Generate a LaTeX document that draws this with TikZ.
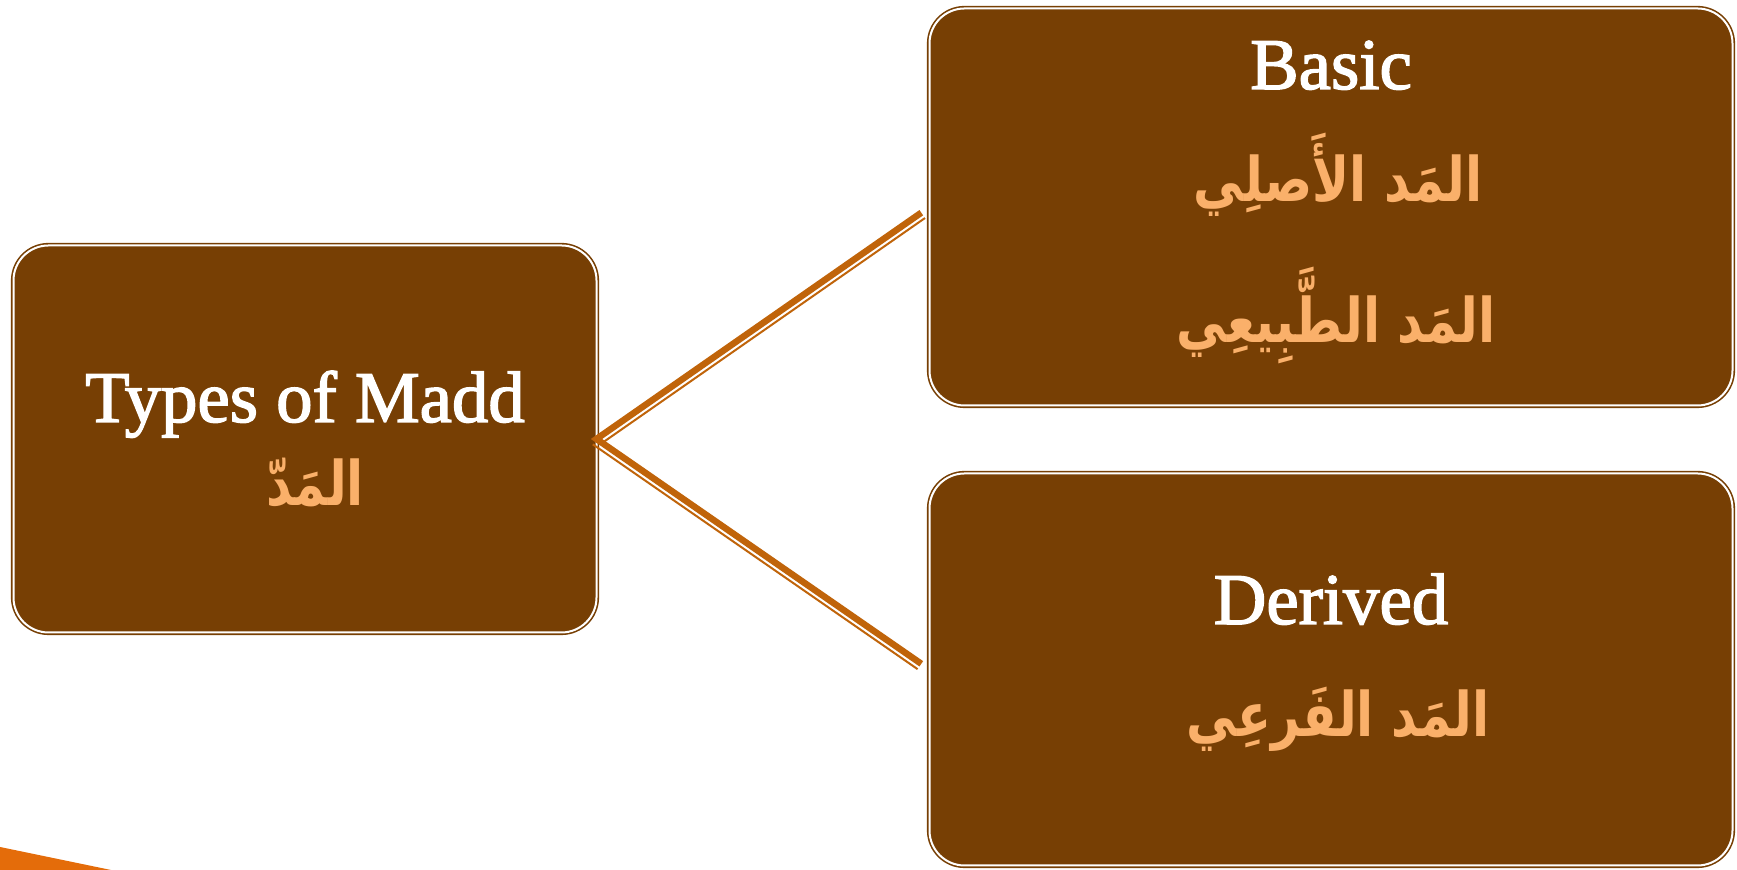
\documentclass[tikz,border=0pt]{standalone}
\usepackage{fontspec}
\setmainfont{Liberation Serif}
\newfontfamily\titlefont[FakeBold=2]{Liberation Serif}
\newfontfamily\arabicfont[Script=Arabic,FakeStretch=0.81]{DejaVu Sans}
\TeXXeTstate=1
\usepackage{tikz}
\usetikzlibrary{positioning,calc}
\definecolor{maddbrown}{HTML}{773F04}
\definecolor{maddsand}{HTML}{FAB06A}
\definecolor{linkline}{HTML}{C0640A}
\definecolor{cornerfill}{HTML}{E46C0A}

\begin{document}
\begin{tikzpicture}[
  maddbox/.style={draw=maddbrown,double=white,double distance=0.02cm,line width=0.016cm,fill=maddbrown,rounded corners=3.5mm,outer sep=0pt,inner sep=0pt},
  entext/.style={text=white,font=\titlefont\fontsize{20.7}{24}\selectfont,anchor=base,inner sep=0pt},
  artext/.style={text=maddsand,font=\arabicfont\bfseries\fontsize{17.5}{21}\selectfont,anchor=base,inner sep=0pt},
  thickline/.style={draw=linkline,line width=0.065cm,line join=miter,shorten <=0.1cm,shorten >=0.1cm},
  thinline/.style={draw=linkline,line width=0.02cm,shorten >=0.1cm}
]
\useasboundingbox (0,0) rectangle (17.37,8.70);
\fill[cornerfill] (0,0.23) -- (1.11,0) -- (0,0) -- cycle;

\node[maddbox,minimum width=58.3mm,minimum height=38.7mm] (mainbox) at (3.05,4.31) {};
\node[maddbox,minimum width=80.3mm,minimum height=39.7mm] (basic) at (13.31,6.63) {};
\node[maddbox,minimum width=80.3mm,minimum height=39.2mm,below=6.8mm of basic] (derived) {};

% labels
\node[entext] (maintitle) at ([yshift=1.7mm]mainbox.center) {Types of Madd};
\node[artext] (mainar) at ([xshift=1mm,yshift=-6.7mm]mainbox.center) {\beginR المَدّ\endR};
\node[entext] (basictitle) at ([yshift=11.8mm]basic.center) {Basic};
\node[artext] (asli) at ([xshift=0.7mm,yshift=0.5mm]basic.center) {\beginR المَد الأَصلِي\endR};
\node[artext] (tabii) at ([xshift=0.5mm,yshift=-13.6mm]basic.center) {\beginR المَد الطَّبِيعِي\endR};
\node[entext] (derivedtitle) at ([yshift=4.55mm]derived.center) {Derived};
\node[artext] (fari) at ([xshift=0.7mm,yshift=-6.75mm]derived.center) {\beginR المَد الفَرعِي\endR};

% thin-thick connectors
\draw[thinline] ($(mainbox.east)!0.065cm!-90:(basic.west)$) -- ($(basic.west)!0.065cm!90:(mainbox.east)$);
\draw[thinline] ($(mainbox.east)!0.065cm!-90:(derived.west)$) -- ($(derived.west)!0.065cm!90:(mainbox.east)$);
\draw[thickline] (basic.west) -- (mainbox.east) -- (derived.west);
\end{tikzpicture}
\end{document}
